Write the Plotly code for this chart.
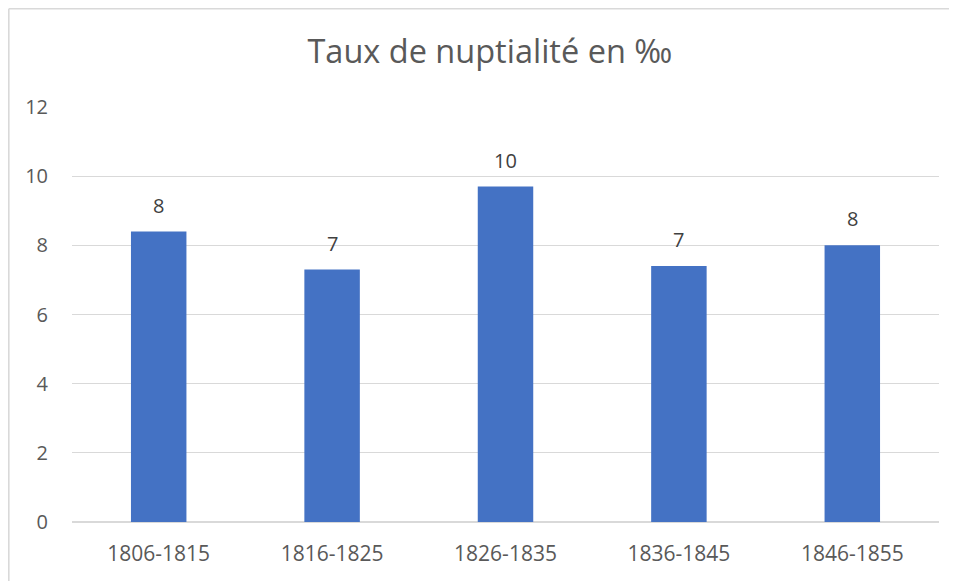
import plotly.graph_objects as go

categories = ["1806-1815", "1816-1825", "1826-1835", "1836-1845", "1846-1855"]
values = [8.4, 7.3, 9.7, 7.4, 8.0]
y_ticks = [0, 2, 4, 6, 8, 10, 12]
title_text = "Taux de nuptialité en ‰"

FONT = "'Open Sans', sans-serif"
GRID = "#d9d9d9"

# page body has an 8px margin, so the figure starts at (8, 8) on screen
ML, MT, PW, PH = 64, 99, 867, 415
W, H = 957, 581

fig = go.Figure()
fig.add_trace(go.Bar(
    x=categories, y=values,
    marker=dict(color="#4472c4", line=dict(width=0)),
    hoverinfo="x+y",
))

annotations = []
for c, v in zip(categories, values):
    annotations.append(dict(
        x=c, y=v, xref="x", yref="y", text=f"{round(v):d}",
        showarrow=False, yanchor="bottom", yshift=11,
        font=dict(family=FONT, size=20, color="#404040"),
    ))

x_left = -(ML - 0.8) / PW
x_right = (W + 40 - ML) / PW
y_top = 1 + (MT - 0.8) / PH
y_bottom = -(H - MT - PH + 40) / PH

fig.update_layout(
    width=W, height=H,
    margin=dict(l=ML, r=W - ML - PW, t=MT, b=H - MT - PH, autoexpand=False),
    paper_bgcolor="white", plot_bgcolor="white",
    bargap=0.68,
    showlegend=False,
    title=dict(text=title_text, x=0.482, xref="paper", xanchor="center",
               y=1 - 44/H, yanchor="middle",
               font=dict(family=FONT, size=32.5, color="#595959")),
    annotations=annotations,
    shapes=[
        dict(type="line", xref="paper", yref="paper",
             x0=x_left, x1=x_right, y0=y_top, y1=y_top,
             line=dict(color=GRID, width=1.6), layer="below"),
        dict(type="line", xref="paper", yref="paper",
             x0=x_left, x1=x_left, y0=y_bottom, y1=y_top,
             line=dict(color=GRID, width=1.6), layer="below"),
    ],
)
fig.update_xaxes(
    showgrid=False, showline=False, zeroline=False, automargin=False,
    tickfont=dict(family=FONT, size=21, color="#595959"),
    ticks="", ticklabelstandoff=17,
)
fig.update_yaxes(
    range=[0, 12], tickvals=y_ticks, showgrid=True, gridcolor=GRID, gridwidth=1,
    zeroline=True, zerolinecolor=GRID, zerolinewidth=1.5, showline=False,
    automargin=False,
    tickfont=dict(family=FONT, size=20, color="#595959"),
    ticks="", ticklabelstandoff=23,
)

fig.write_html("out.html")
